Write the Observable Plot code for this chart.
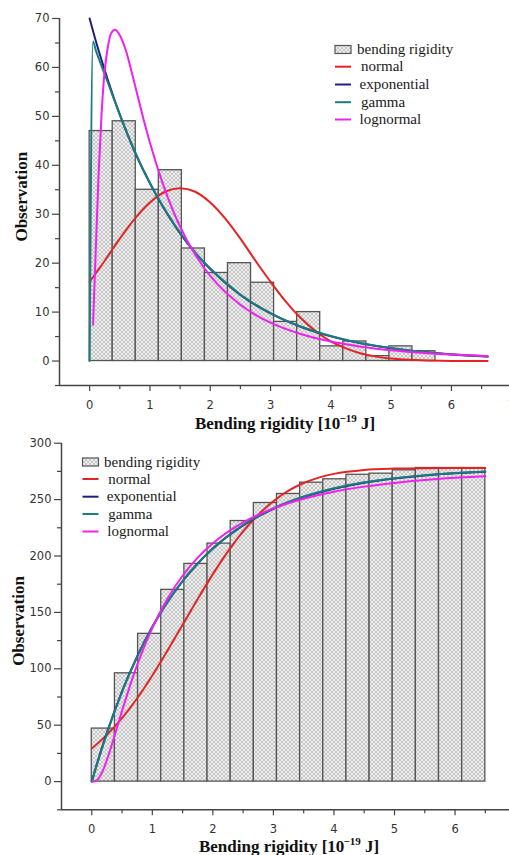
<!DOCTYPE html>
<html>
<head>
<meta charset="utf-8">
<script src="https://cdn.jsdelivr.net/npm/d3@7"></script>
<script src="https://cdn.jsdelivr.net/npm/@observablehq/plot@0.6"></script>
<style>
  body { margin: 0; background: #fff; }
  #wrap { position: relative; width: 509px; height: 855px; overflow: hidden; background: #fff; }
  .panel { position: absolute; left: 0; width: 540px; }
  .panel svg { max-width: none !important; height: auto; display: block; }
  #overlay { position: absolute; left: 0; top: 0; pointer-events: none; }
</style>
</head>
<body>
<div id="wrap">
  <div class="panel" id="topPanel" style="top:0px"></div>
  <div class="panel" id="botPanel" style="top:430px"></div>
</div>
<script>
// ---------- data ----------
const binEdges = [0, 0.3824, 0.7647, 1.1471, 1.5294, 1.9118, 2.2941, 2.6765, 3.0588, 3.4412, 3.8235, 4.2059, 4.5882, 4.9706, 5.3529, 5.7353, 6.1176, 6.5];
const countsPdf = [47, 49, 35, 39, 23, 18, 20, 16, 8, 10, 3, 4, 1, 3, 2, 0, 0];
const countsCdf = [47, 96, 131, 170, 193, 211, 231, 247, 255, 265, 268, 272, 273, 276, 278, 278, 278];

// top chart (frequency) fitted curves
const normalPdfX = [0, 0.25, 0.5, 0.75, 1, 1.25, 1.5, 1.75, 2, 2.25, 2.5, 2.75, 3, 3.25, 3.5, 3.75, 4, 4.25, 4.5, 4.75, 5, 5.5, 6, 6.6];
const normalPdfY = [16.2, 20.5, 25.0, 29.1, 32.4, 34.6, 35.3, 34.6, 32.4, 29.1, 25.0, 20.5, 16.2, 12.2, 8.8, 6.1, 4.0, 2.6, 1.55, 0.9, 0.5, 0.14, 0.03, 0.0];
const expPdfX = [0, 0.1, 0.2, 0.3, 0.4, 0.5, 0.75, 1, 1.25, 1.5, 1.75, 2, 2.5, 3, 3.5, 4, 4.5, 5, 5.5, 6, 6.6];
const expPdfY = [70, 65.5, 61.4, 57.5, 53.8, 50.4, 42.7, 36.3, 30.8, 26.1, 22.1, 18.8, 13.5, 9.72, 7.0, 5.04, 3.62, 2.61, 1.88, 1.35, 0.91];
const gammaPdfX = [0, 0.055, 0.1, 0.2, 0.3, 0.4, 0.5, 0.75, 1, 1.25, 1.5, 1.75, 2, 2.5, 3, 3.5, 4, 4.5, 5, 5.5, 6, 6.6];
const gammaPdfY = [0, 65.3, 63.6, 60.2, 57.0, 53.6, 50.3, 42.8, 36.4, 30.9, 26.2, 22.2, 18.9, 13.6, 9.8, 7.05, 5.1, 3.65, 2.65, 1.9, 1.37, 0.93];
const lognPdfX = [0.056, 0.1, 0.15, 0.2, 0.25, 0.3, 0.35, 0.42, 0.5, 0.6, 0.7, 0.8, 0.9, 1, 1.2, 1.4, 1.6, 1.8, 2, 2.25, 2.5, 2.75, 3, 3.5, 4, 4.5, 5, 5.5, 6, 6.6];
const lognPdfY = [7.4, 22.3, 38.6, 51.0, 59.4, 64.0, 66.8, 67.7, 66.6, 63.5, 58.9, 54.0, 49.1, 44.6, 36.7, 30.2, 25.0, 20.8, 17.4, 14.1, 11.5, 9.45, 7.84, 5.52, 3.99, 2.94, 2.21, 1.69, 1.31, 0.99];

// bottom chart (cumulative) fitted curves
const normalCdfX = [0, 0.25, 0.5, 0.75, 1, 1.25, 1.5, 1.75, 2, 2.25, 2.5, 2.75, 3, 3.25, 3.5, 3.75, 4, 4.5, 5, 5.5, 6, 6.5];
const normalCdfY = [29.4, 41.4, 56.2, 73.9, 94.1, 116.1, 139, 161.9, 183.9, 204.1, 221.8, 236.6, 248.6, 257.9, 264.7, 269.5, 272.8, 276.3, 277.5, 277.9, 278, 278];
const expCdfX = [0, 0.1, 0.25, 0.5, 0.75, 1, 1.25, 1.5, 1.75, 2, 2.5, 3, 3.5, 4, 4.5, 5, 5.5, 6, 6.5];
const expCdfY = [0, 18.3, 43.4, 80.1, 111.0, 137.2, 159.2, 177.8, 193.4, 206.6, 227.2, 241.9, 252.3, 259.7, 265.0, 268.7, 271.4, 273.3, 274.7];
const gammaCdfX = [0, 0.1, 0.25, 0.5, 0.75, 1, 1.25, 1.5, 1.75, 2, 2.5, 3, 3.5, 4, 4.5, 5, 5.5, 6, 6.5];
const gammaCdfY = [0, 17.6, 42.6, 79.5, 110.6, 137.0, 159.1, 177.8, 193.5, 206.8, 227.5, 242.3, 252.7, 260.1, 265.4, 269.0, 271.7, 273.5, 274.9];
const lognCdfX = [0.02, 0.05, 0.1, 0.15, 0.2, 0.3, 0.4, 0.5, 0.6, 0.75, 1, 1.25, 1.5, 1.75, 2, 2.5, 3, 3.5, 4, 4.5, 5, 5.5, 6, 6.5];
const lognCdfY = [0, 0.3, 2.0, 6.0, 11.9, 27.3, 44.9, 62.7, 79.8, 103.4, 136.3, 162.2, 182.5, 198.5, 211.2, 229.8, 242.2, 250.8, 257.0, 261.5, 264.8, 267.4, 269.3, 270.8];

// ticks
const xTicksTop = [0, 1, 2, 3, 4, 5, 6, 7];
const xTicksBot = [0, 1, 2, 3, 4, 5, 6];
const xMinorTicks = [0.5, 1.5, 2.5, 3.5, 4.5, 5.5, 6.5];
const yTicksTop = [0, 10, 20, 30, 40, 50, 60, 70];
const yMinorTop = [-5, 5, 15, 25, 35, 45, 55, 65];
const yTicksBot = [0, 50, 100, 150, 200, 250, 300];
const yMinorBot = [-25, 25, 75, 125, 175, 225, 275];

// labels
const seriesNames = ["normal", "exponential", "gamma", "lognormal"];
const histName = "bending rigidity";
const yTitle = "Observation";
const xTitleMain = "Bending rigidity [10";
const xTitleExp = "\u221219";
const xTitleUnit = " J]";

// ---------- helpers ----------
const colors = { normal: "#e42424", exponential: "#1f1f7e", gamma: "#1c7c80", lognormal: "#f020f0" };
const axisColor = "#444";

function bars(counts) {
  return counts.map((c, i) => ({ x1: binEdges[i], x2: binEdges[i + 1], count: c })).filter(d => d.count > 0);
}
function pts(xs, ys) { return xs.map((x, i) => ({ x, y: ys[i] })); }

function addPattern(sel, id) {
  const p = sel.append("pattern").attr("id", id).attr("patternUnits", "userSpaceOnUse")
    .attr("width", 4).attr("height", 4);
  p.append("rect").attr("width", 4).attr("height", 4).attr("fill", "#c6c6c6");
  p.append("path").attr("d", "M0,0L4,4M4,0L0,4").attr("stroke", "#f4f4f4").attr("stroke-width", 0.9);
}

function chart({ counts, curves, yDomain, yTicks, yMinor, xTicks, margins, height, patternId }) {
  const marks = [
    Plot.rectY(bars(counts), { x1: "x1", x2: "x2", y: "count", inset: 0, fill: `url(#${patternId})`, stroke: "#555", strokeWidth: 1.3 })
  ];
  for (const [name, data] of curves) {
    marks.push(Plot.line(data, { x: "x", y: "y", stroke: colors[name], strokeWidth: 2, curve: "monotone-x" }));
  }
  marks.push(
    Plot.ruleX([-0.5], { stroke: axisColor, strokeWidth: 1.5 }),
    Plot.ruleY([yDomain[0]], { stroke: axisColor, strokeWidth: 1.5 }),
    Plot.axisY(yTicks, { tickSize: 7, tickPadding: 3, label: null, stroke: axisColor, strokeWidth: 1.2, fill: "#333" }),
    Plot.axisY(yMinor, { tickSize: 4, tickFormat: () => "", label: null, stroke: axisColor, strokeWidth: 1.2 }),
    Plot.axisX(xTicks, { tickSize: 6, tickPadding: 9, label: null, stroke: axisColor, strokeWidth: 1.2, fill: "#333" }),
    Plot.axisX(xMinorTicks, { tickSize: 4, tickFormat: () => "", label: null, stroke: axisColor, strokeWidth: 1.2 })
  );
  const svg = Plot.plot({
    width: 540, height,
    marginLeft: margins[0], marginRight: margins[1], marginTop: margins[2], marginBottom: margins[3],
    x: { domain: [-0.5, 7.2] },
    y: { domain: yDomain },
    style: { fontFamily: "'DejaVu Sans', sans-serif", fontSize: "11.5px", background: "transparent", overflow: "visible", maxWidth: "none" },
    marks
  });
  svg.style.maxWidth = "none";
  svg.setAttribute("width", 540);
  addPattern(d3.select(svg).insert("defs", ":first-child"), patternId);
  return svg;
}

const topSvg = chart({
  counts: countsPdf,
  curves: [["normal", pts(normalPdfX, normalPdfY)], ["exponential", pts(expPdfX, expPdfY)], ["gamma", pts(gammaPdfX, gammaPdfY)], ["lognormal", pts(lognPdfX, lognPdfY)]],
  yDomain: [-5, 70], yTicks: yTicksTop, yMinor: yMinorTop, xTicks: xTicksTop,
  margins: [59, 16.7, 18, 45], height: 430, patternId: "hatchTop"
});
document.getElementById("topPanel").appendChild(topSvg);

const botSvg = chart({
  counts: countsCdf,
  curves: [["normal", pts(normalCdfX, normalCdfY)], ["exponential", pts(expCdfX, expCdfY)], ["gamma", pts(gammaCdfX, gammaCdfY)], ["lognormal", pts(lognCdfX, lognCdfY)]],
  yDomain: [-25, 300], yTicks: yTicksBot, yMinor: yMinorBot, xTicks: xTicksBot,
  margins: [61, 12.8, 12.7, 45.7], height: 425, patternId: "hatchBot"
});
document.getElementById("botPanel").appendChild(botSvg);

// ---------- overlay: titles and legends ----------
const ov = d3.select("#wrap").append("svg").attr("id", "overlay").attr("width", 509).attr("height", 855);
addPattern(ov.append("defs"), "hatchLeg");

function yTitleAt(cx, cy) {
  ov.append("text").attr("transform", `translate(${cx},${cy}) rotate(-90)`)
    .attr("text-anchor", "middle").attr("font-family", "'Liberation Serif', serif")
    .attr("font-weight", "bold").attr("font-size", 17).attr("fill", "#111").text(yTitle);
}
function xTitleAt(cx, by) {
  const t = ov.append("text").attr("x", cx).attr("y", by).attr("text-anchor", "middle")
    .attr("font-family", "'Liberation Serif', serif").attr("font-weight", "bold")
    .attr("font-size", 17).attr("fill", "#111");
  t.append("tspan").text(xTitleMain);
  t.append("tspan").attr("dx", -1).attr("dy", -7).attr("font-size", 11).text(xTitleExp);
  t.append("tspan").attr("dy", 7).text(xTitleUnit);
}
yTitleAt(26.5, 196.7);
yTitleAt(23.5, 621);
xTitleAt(285, 428.5);
xTitleAt(289, 851.5);

function legend(sx, swW, rowsY, textX) {
  ov.append("rect").attr("x", sx).attr("y", rowsY[0] - 4).attr("width", swW).attr("height", 8)
    .attr("fill", "url(#hatchLeg)").attr("stroke", "#555").attr("stroke-width", 1.2);
  const names = [histName, ...seriesNames];
  names.forEach((n, i) => {
    if (i > 0) {
      ov.append("line").attr("x1", sx).attr("x2", sx + swW).attr("y1", rowsY[i]).attr("y2", rowsY[i])
        .attr("stroke", colors[n]).attr("stroke-width", 2);
    }
    ov.append("text").attr("x", textX[i]).attr("y", rowsY[i] + 4.5)
      .attr("font-family", "'Liberation Serif', serif").attr("font-size", 15).attr("fill", "#1a1a1a").text(n);
  });
}
legend(335, 16, [49.5, 66.7, 84.5, 102.2, 119.5], [357, 361, 359.5, 361, 359.5]);
legend(82.5, 16, [462, 479, 496.7, 514, 531.5], [104, 108.3, 106.7, 108.3, 107.3]);
</script>
</body>
</html>
